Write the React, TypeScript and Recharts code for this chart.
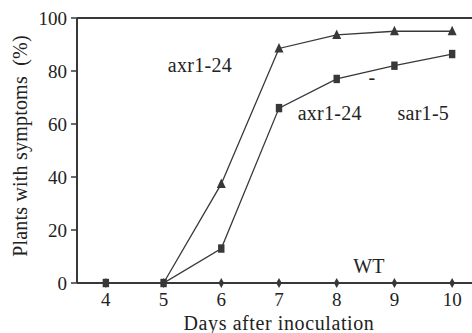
import { LineChart, Line, XAxis, YAxis, ReferenceLine, ReferenceDot, Label } from 'recharts'

const days = [4, 5, 6, 7, 8, 9, 10]
const wt = [0, 0, 0, 0, 0, 0, 0]
const axrSquares = [0, 0, 13, 66, 77, 82, 86.4]
const axrTriangles = [null, 0, 37.4, 88.5, 93.6, 95, 95]
const yTicks = [0, 20, 40, 60, 80, 100]

const notes = [
  { text: 'axr1-24', x: 5.63, y: 82.3 },
  { text: 'axr1-24', x: 7.88, y: 64.2 },
  { text: 'sar1-5', x: 9.5, y: 64.2 },
  { text: 'WT', x: 8.56, y: 6.4 },
  { text: '-', x: 8.61, y: 77.7 },
]

const INK = '#383838'
const FONT = '"Liberation Serif", "Times New Roman", serif'

const rows = days.map((d, i) => ({ day: d, wt: wt[i], sq: axrSquares[i], tri: axrTriangles[i] }))

function Triangle(p: any) {
  const { cx, cy, value } = p
  if (cx == null || cy == null || !value) return <g key={p.key} />
  return <path key={p.key} d={`M${cx},${cy - 5.5} L${cx + 4.5},${cy + 4} L${cx - 4.5},${cy + 4} Z`} fill={INK} />
}

function Square(p: any) {
  const { cx, cy } = p
  if (cx == null || cy == null) return <g key={p.key} />
  return <rect key={p.key} x={cx - 3.2} y={cy - 4.2} width={6.4} height={8.4} fill={INK} />
}

function Diamond(p: any) {
  const { cx, cy } = p
  if (cx == null || cy == null) return <g key={p.key} />
  return <path key={p.key} d={`M${cx},${cy - 5} L${cx + 2.8},${cy} L${cx},${cy + 5} L${cx - 2.8},${cy} Z`} fill={INK} />
}

export default function App() {
  return (
    <div style={{ position: 'absolute', left: 0, top: 0, width: 472, height: 333, overflow: 'hidden', background: '#fff' }}>
      <LineChart width={485} height={333} data={rows} margin={{ top: 18, right: 4, bottom: 0, left: 0 }}>
        <XAxis
          dataKey="day"
          type="number"
          domain={[3.5, 10.5]}
          ticks={days}
          height={50}
          tickLine={false}
          tickSize={6}
          tickMargin={4}
          axisLine={{ stroke: INK, strokeWidth: 2 }}
          tick={{ fill: '#222', fontSize: 19, fontFamily: FONT }}
        >
          <Label
            value="Days after inoculation"
            position="insideBottom"
            offset={3}
            fill="#222"
            fontSize={20}
            fontFamily={FONT}
            style={{ letterSpacing: 0.6 }}
          />
        </XAxis>
        <YAxis
          type="number"
          domain={[0, 100]}
          ticks={yTicks}
          width={77}
          tickSize={6}
          tickMargin={4}
          tickLine={{ stroke: INK, strokeWidth: 1.5 }}
          axisLine={{ stroke: INK, strokeWidth: 2 }}
          tick={{ fill: '#222', fontSize: 19, fontFamily: FONT }}
          label={{
            content: () => (
              <text
                x={20}
                y={146}
                transform="rotate(-90 20 146)"
                textAnchor="middle"
                dominantBaseline="central"
                fill="#222"
                fontSize={20}
                fontFamily={FONT}
                style={{ whiteSpace: 'pre', letterSpacing: 0.2 }}
              >
                {'Plants with symptoms  (%)'}
              </text>
            ),
          }}
        />
        <ReferenceLine y={100} stroke={INK} strokeWidth={2} />
        <Line dataKey="wt" stroke={INK} strokeWidth={1.3} dot={Diamond} isAnimationActive={false} />
        <Line dataKey="tri" stroke={INK} strokeWidth={1.3} dot={Triangle} isAnimationActive={false} />
        <Line dataKey="sq" stroke={INK} strokeWidth={1.3} dot={Square} isAnimationActive={false} />
        {notes.map((n, i) => (
          <ReferenceDot
            key={i}
            x={n.x}
            y={n.y}
            r={0}
            stroke="none"
            label={{
              value: n.text,
              position: 'center',
              fill: '#222',
              fontSize: 20,
              fontFamily: FONT,
              style: { letterSpacing: 0.3 },
            }}
          />
        ))}
      </LineChart>
    </div>
  )
}
